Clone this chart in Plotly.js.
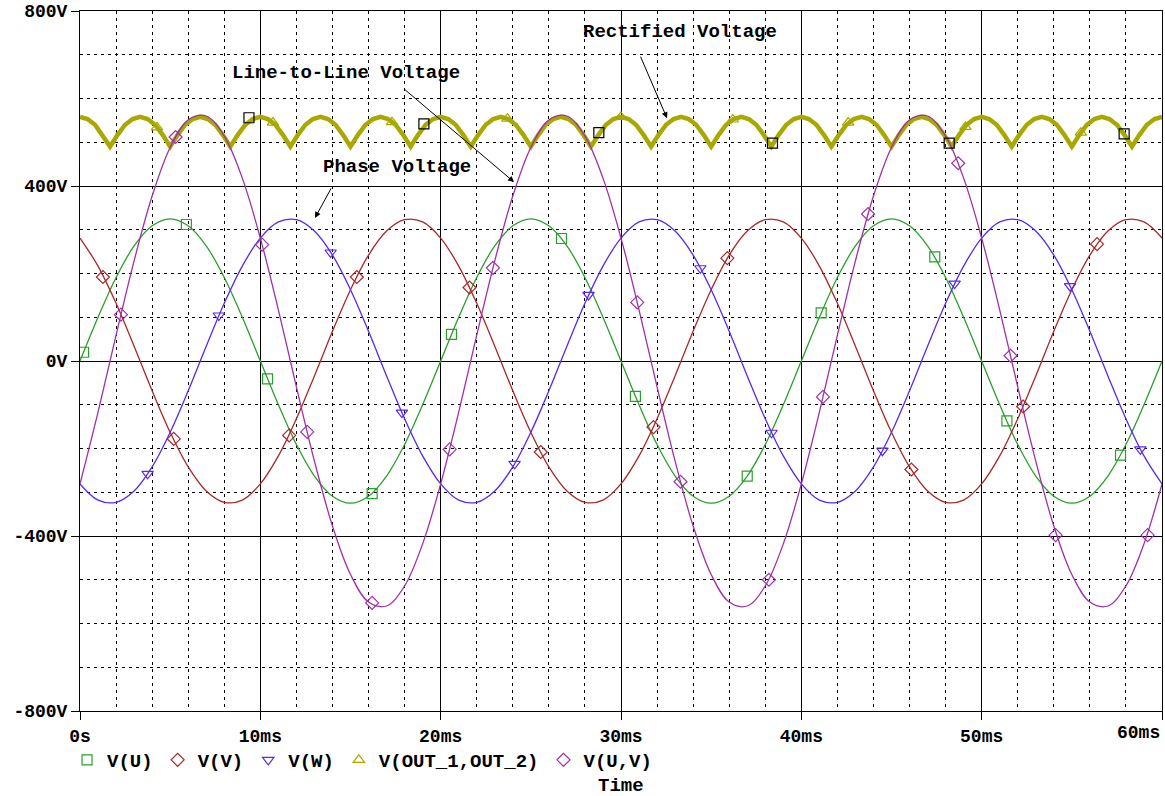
<!DOCTYPE html>
<html>
<head>
<meta charset="utf-8">
<script src="https://cdn.plot.ly/plotly-3.0.1.min.js"></script>
<style>html,body{margin:0;padding:0;background:#fff;}#chart{width:1165px;height:796px;}</style>
</head>
<body>
<div id="chart"></div>
<script>
// ---- data (time in ms, voltage in V) ----
const tTickVals = [0, 10, 20, 30, 40, 50, 60];
const tTickText = ['0s', '10ms', '20ms', '30ms', '40ms', '50ms', ''];
const vTickVals = [-800, -400, 0, 400, 800];
const vTickText = ['-800V', '-400V', '0V', '400V', '800V'];

// sampled every 1 ms, 0..60 ms
const vU = [0,100,191,263,309,325,309,263,191,100,0,-100,-191,-263,-309,-325,-309,-263,-191,-100,
            0,100,191,263,309,325,309,263,191,100,0,-100,-191,-263,-309,-325,-309,-263,-191,-100,
            0,100,191,263,309,325,309,263,191,100,0,-100,-191,-263,-309,-325,-309,-263,-191,-100,0];
const vV = [281,217,132,34,-68,-163,-242,-297,-323,-318,-281,-217,-132,-34,68,163,242,297,323,318,
            281,217,132,34,-68,-163,-242,-297,-323,-318,-281,-217,-132,-34,68,163,242,297,323,318,
            281,217,132,34,-68,-163,-242,-297,-323,-318,-281,-217,-132,-34,68,163,242,297,323,318,281];
const vW = [-281,-318,-323,-297,-242,-163,-68,34,132,217,281,318,323,297,242,163,68,-34,-132,-217,
            -281,-318,-323,-297,-242,-163,-68,34,132,217,281,318,323,297,242,163,68,-34,-132,-217,
            -281,-318,-323,-297,-242,-163,-68,34,132,217,281,318,323,297,242,163,68,-34,-132,-217,-281];
const vUV = [-281,-117,59,229,377,488,551,560,514,418,281,117,-59,-229,-377,-488,-551,-560,-514,-418,
             -281,-117,59,229,377,488,551,560,514,418,281,117,-59,-229,-377,-488,-551,-560,-514,-418,
             -281,-117,59,229,377,488,551,560,514,418,281,117,-59,-229,-377,-488,-551,-560,-514,-418,-281];
// rectified output, sampled every 5/12 ms, 0..60 ms
const vOut = [
 558,553,540,517,490,517,540,553, 558,553,540,517,490,517,540,553, 558,553,540,517,490,517,540,553,
 558,553,540,517,490,517,540,553, 558,553,540,517,490,517,540,553, 558,553,540,517,490,517,540,553,
 558,553,540,517,490,517,540,553, 558,553,540,517,490,517,540,553, 558,553,540,517,490,517,540,553,
 558,553,540,517,490,517,540,553, 558,553,540,517,490,517,540,553, 558,553,540,517,490,517,540,553,
 558,553,540,517,490,517,540,553, 558,553,540,517,490,517,540,553, 558,553,540,517,490,517,540,553,
 558,553,540,517,490,517,540,553, 558,553,540,517,490,517,540,553, 558,553,540,517,490,517,540,553,
 558];

// marker positions on each trace
const mkU_t = [0.2, 5.9, 10.4, 16.2, 20.6, 26.7, 30.8, 37.0, 41.1, 47.4, 51.4, 57.7];
const mkU_v = [20, 312, -41, -303, 61, 280, -81, -263, 110, 238, -137, -215];
const mkV_t = [1.27, 5.2, 11.6, 15.35, 21.6, 25.55, 31.8, 35.9, 46.1, 52.3, 56.4];
const mkV_v = [192, -178, -170, 192, 168, -208, -151, 235, -248, -104, 267];
const mkW_t = [3.75, 7.7, 13.9, 17.85, 24.1, 28.2, 34.4, 38.35, 44.5, 48.5, 54.9, 58.8];
const mkW_v = [-258, 104, 248, -118, -235, 151, 212, -164, -205, 177, 171, -202];
const mkUV_t = [2.27, 5.3, 10.1, 12.6, 16.2, 20.5, 22.9, 30.9, 33.3, 38.2, 41.2, 43.7, 48.7, 51.6, 54.1, 59.2];
const mkUV_v = [106, 512, 266, -162, -553, -202, 213, 134, -276, -500, -82, 336, 452, 12, -398, -398];
const mkOut_t = [4.27, 10.7, 17.3, 23.7, 30.0, 36.2, 42.6, 49.1, 55.5];
const mkOut_v = [534, 545, 546, 554, 558, 552, 545, 535, 522];
const mkBlk_t = [9.37, 19.07, 28.77, 38.4, 48.2, 57.9];
const mkBlk_v = [556, 542, 522, 498, 498, 519];

const seriesNames = ['V(U)', 'V(V)', 'V(W)', 'V(OUT_1,OUT_2)', 'V(U,V)'];

// ---- styles ----
const cU = '#2aa02a', cV = '#a82828', cW = '#5a28f0', cOut = '#a8a800', cUV = '#a030a8';
const FONT = 'Liberation Mono, Courier New, monospace';

function lineTrace(y, dx, color, width, shape) {
  return {type: 'scatter', mode: 'lines', x0: 0, dx: dx, y: y, showlegend: false, hoverinfo: 'skip',
          line: {color: color, width: width, shape: shape}};
}
function markTrace(name, x, y, color, symbol, show) {
  return {type: 'scatter', mode: 'markers', name: name, x: x, y: y, showlegend: show, hoverinfo: 'skip',
          marker: {symbol: symbol, size: 10, color: color, line: {color: color, width: 1.2}}};
}

const traces = [
  lineTrace(vOut, 5/12, cOut, 4.5, 'linear'),
  lineTrace(vU, 1, cU, 1.3, 'spline'),
  lineTrace(vV, 1, cV, 1.3, 'spline'),
  lineTrace(vW, 1, cW, 1.3, 'spline'),
  lineTrace(vUV, 1, cUV, 1.3, 'spline'),
  markTrace(seriesNames[0], mkU_t, mkU_v, cU, 'square-open', true),
  markTrace(seriesNames[1], mkV_t, mkV_v, cV, 'diamond-open', true),
  markTrace(seriesNames[2], mkW_t, mkW_v, cW, 'triangle-down-open', true),
  markTrace(seriesNames[3], mkOut_t, mkOut_v, cOut, 'triangle-up-open', true),
  markTrace(seriesNames[4], mkUV_t, mkUV_v, cUV, 'diamond-open', true),
  markTrace('', mkBlk_t, mkBlk_v, '#000', 'square-open', false)
];

const gridDash = '3px,4px';
const tickFont = {family: FONT, size: 18, color: '#000', weight: 'bold'};
const textFont = {family: FONT, size: 19, color: '#000', weight: 'bold'};

const layout = {
  width: 1165, height: 796,
  margin: {l: 80, r: 3, t: 11, b: 85, pad: 0},
  paper_bgcolor: '#fff', plot_bgcolor: '#fff',
  showlegend: true,
  legend: {orientation: 'h', x: -0.012, xanchor: 'left', y: -0.07, yanchor: 'middle',
           font: textFont, bgcolor: 'rgba(0,0,0,0)', traceorder: 'normal', itemwidth: 30},
  xaxis: {range: [0, 60], tickvals: tTickVals, ticktext: tTickText, ticks: 'outside', ticklen: 8,
          tickcolor: '#000', tickwidth: 1, tickfont: tickFont,
          showgrid: true, gridcolor: '#000', gridwidth: 1, zeroline: false,
          showline: true, linecolor: '#000', linewidth: 1, mirror: true,
          minor: {dtick: 2, showgrid: true, gridcolor: '#000', gridwidth: 1, griddash: gridDash, ticks: ''}},
  yaxis: {range: [-800, 800], tickvals: vTickVals, ticktext: vTickText, ticks: 'outside', ticklen: 8,
          tickcolor: '#000', tickwidth: 1, tickfont: tickFont,
          showgrid: true, gridcolor: '#000', gridwidth: 1, zeroline: false,
          showline: true, linecolor: '#000', linewidth: 1, mirror: true,
          minor: {dtick: 100, showgrid: true, gridcolor: '#000', gridwidth: 1, griddash: gridDash, ticks: ''}},
  annotations: [
    {xref: 'x', yref: 'paper', x: 60, y: 0, yshift: -22, xanchor: 'right', yanchor: 'middle',
     text: '60ms', showarrow: false, font: tickFont},
    {xref: 'paper', yref: 'paper', x: 0.5, y: -0.107, xanchor: 'center', yanchor: 'middle',
     text: 'Time', showarrow: false, font: textFont},
    {xref: 'x', yref: 'y', x: 33.27, y: 752, text: 'Rectified Voltage', showarrow: false, font: textFont},
    {xref: 'x', yref: 'y', x: 14.75, y: 658, text: 'Line-to-Line Voltage', showarrow: false, font: textFont},
    {xref: 'x', yref: 'y', x: 17.58, y: 443, text: 'Phase Voltage', showarrow: false, font: textFont},
    {xref: 'x', yref: 'y', axref: 'x', ayref: 'y', x: 32.55, y: 555, ax: 31.05, ay: 699, text: '',
     showarrow: true, arrowhead: 2, arrowsize: 1.2, arrowwidth: 1, arrowcolor: '#000', standoff: 0, startstandoff: 0},
    {xref: 'x', yref: 'y', axref: 'x', ayref: 'y', x: 24.07, y: 409, ax: 17.91, ay: 624, text: '',
     showarrow: true, arrowhead: 2, arrowsize: 1.2, arrowwidth: 1, arrowcolor: '#000', standoff: 0, startstandoff: 0},
    {xref: 'x', yref: 'y', axref: 'x', ayref: 'y', x: 13.03, y: 327, ax: 13.97, ay: 398, text: '',
     showarrow: true, arrowhead: 2, arrowsize: 1.2, arrowwidth: 1, arrowcolor: '#000', standoff: 0, startstandoff: 0}
  ]
};

Plotly.newPlot('chart', traces, layout, {displayModeBar: false, staticPlot: true});
</script>
</body>
</html>
